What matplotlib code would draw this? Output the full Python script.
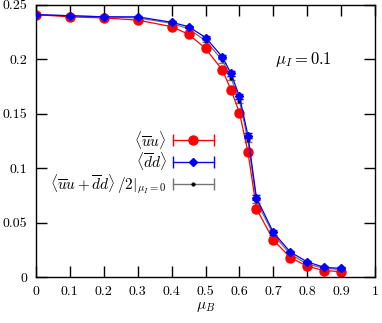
import numpy as np
import matplotlib
matplotlib.use("Agg")
from matplotlib import pyplot as plt
from matplotlib.legend_handler import HandlerErrorbar

plt.rcParams['font.family'] = 'cmr10'
plt.rcParams['mathtext.fontset'] = 'cm'
plt.rcParams['axes.formatter.use_mathtext'] = True

# data
muB = [0, 0.1, 0.2, 0.3, 0.4, 0.45, 0.5, 0.55, 0.575, 0.6, 0.625, 0.65, 0.7, 0.75, 0.8, 0.85, 0.9]
uu = [0.241, 0.239, 0.238, 0.236, 0.230, 0.223, 0.210, 0.190, 0.172, 0.151, 0.115, 0.063, 0.034, 0.018, 0.010, 0.006, 0.005]
uu_err = [0.001, 0.001, 0.001, 0.001, 0.001, 0.001, 0.001, 0.002, 0.002, 0.002, 0.002, 0.002, 0.002, 0.001, 0.001, 0.001, 0.001]
dd = [0.241, 0.240, 0.239, 0.239, 0.234, 0.230, 0.220, 0.202, 0.187, 0.166, 0.130, 0.073, 0.041, 0.023, 0.014, 0.009, 0.008]
dd_err = [0.001, 0.001, 0.001, 0.001, 0.001, 0.001, 0.001, 0.002, 0.002, 0.002, 0.002, 0.002, 0.002, 0.001, 0.001, 0.001, 0.001]
avg0 = [0.241, 0.240, 0.239, 0.238, 0.233, 0.228, 0.217, 0.199, 0.183, 0.162, 0.126, 0.070, 0.039, 0.021, 0.012, 0.008, 0.007]
avg0_err = [0.001, 0.001, 0.001, 0.001, 0.001, 0.001, 0.001, 0.002, 0.002, 0.002, 0.002, 0.002, 0.002, 0.001, 0.001, 0.001, 0.001]

labels = [r'$\langle\overline{u}u\rangle$',
          r'$\langle\overline{d}d\rangle$',
          r'$\langle\overline{u}u+\overline{d}d\rangle\,/2|_{\mu_I=0}$']

fig = plt.figure(figsize=(3.82, 3.23), dpi=100)
ax = fig.add_axes([0.094, 0.142, 0.888, 0.843])

ax.errorbar(muB, avg0, yerr=avg0_err, color='0.45', lw=0.9, marker='o', ms=2,
            mfc='black', mec='black', capsize=3, elinewidth=0.8, zorder=1)
ax.errorbar(muB, uu, yerr=uu_err, color='red', lw=0.9, marker='o', ms=6.5,
            capsize=3, elinewidth=0.8, zorder=2)
ax.errorbar(muB, dd, yerr=dd_err, color='blue', lw=0.9, marker='D', ms=4,
            capsize=3, elinewidth=0.8, zorder=3)

# proxies for the legend (horizontal bars with caps like the original)
p1 = ax.errorbar([np.nan], [np.nan], xerr=[0.1], color='red', lw=0.9, marker='o', ms=6.5, capsize=4, elinewidth=0.8)
p2 = ax.errorbar([np.nan], [np.nan], xerr=[0.1], color='blue', lw=0.9, marker='D', ms=4, capsize=4, elinewidth=0.8)
p3 = ax.errorbar([np.nan], [np.nan], xerr=[0.1], color='0.45', lw=0.9, marker='o', ms=2,
                 mfc='black', mec='black', capsize=4, elinewidth=0.8)
hl = 2.7
hm = {c: HandlerErrorbar(xerr_size=hl / 2) for c in (p1, p2, p3)}
ax.legend([p1, p2, p3], labels, handler_map=hm, markerfirst=False, frameon=False,
          handlelength=hl, handletextpad=0.4, labelspacing=-0.02, fontsize=11,
          loc='center right', bbox_to_anchor=(0.565, 0.422))

ax.text(0.705, 0.2, r'$\mu_I = 0.1$', fontsize=12, va='center')

ax.set_xlim(0, 1)
ax.set_ylim(0, 0.25)
ax.set_xticks(np.arange(0, 1.01, 0.1))
ax.set_xticklabels(['0', '0.1', '0.2', '0.3', '0.4', '0.5', '0.6', '0.7', '0.8', '0.9', '1'])
ax.set_yticks([0, 0.05, 0.1, 0.15, 0.2, 0.25])
ax.set_yticklabels(['0', '0.05', '0.1', '0.15', '0.2', '0.25'])
ax.tick_params(direction='in', length=8, width=1, top=True, right=True, labelsize=10, pad=6)
for s in ax.spines.values():
    s.set_linewidth(1)
ax.set_xlabel(r'$\mu_B$', fontsize=11, labelpad=2)

fig.savefig('out.png', dpi=100)
